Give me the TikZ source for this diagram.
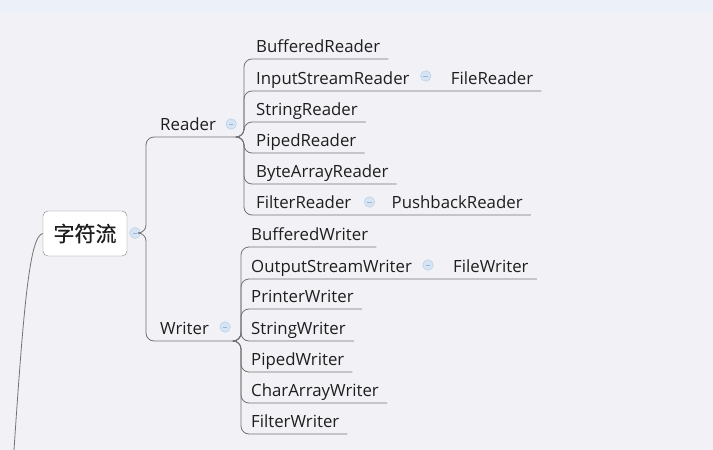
\documentclass[tikz,border=0pt]{standalone}
\usepackage{fontspec}
\setmainfont{Open Sans}
\newfontfamily\cjk[FakeBold=0.6]{Noto Sans CJK SC}
\usetikzlibrary{calc}
\definecolor{bg}{RGB}{242,242,246}
\definecolor{band}{RGB}{236,240,248}
\definecolor{txt}{RGB}{30,30,30}
\definecolor{ln}{RGB}{115,115,115}
\definecolor{cfill}{RGB}{214,228,243}
\definecolor{cdraw}{RGB}{186,206,230}
\definecolor{cminus}{RGB}{150,180,215}
\begin{document}
\begin{tikzpicture}[x=1pt,y=-1pt,
  lbl/.style={anchor=base west, inner sep=0pt, text=txt, font=\fontsize{16.8}{20}\selectfont},
  conn/.style={draw=ln, line width=0.8pt, rounded corners=8pt},
  fold/.style={circle, fill=cfill, draw=cdraw, line width=0.5pt, minimum size=10.5pt, inner sep=0pt,
    path picture={\draw[cminus, line width=0.8pt] ([xshift=-2.3pt]path picture bounding box.center) -- ([xshift=2.3pt]path picture bounding box.center);}},
]
\fill[bg] (0,0) rectangle (713,450);
\fill[band] (0,0) rectangle (713,12);
\useasboundingbox (0,0) rectangle (713,450);

% root
\node[draw=ln!90, fill=white, rounded corners=5pt, minimum width=84pt, minimum height=45pt,
      font=\cjk\fontsize{21}{24}\selectfont, text=txt] (root) at (85,233.5) {字符流};
\node[fold, minimum size=11pt] (rootf) at (135,233) {};
\coordinate (up) at (14,450);
\draw[draw=ln, line width=0.8pt] (root.west) .. controls (30,236) and (24,300) .. (up);

% level 1
\node[lbl] (reader) at (160,130) {Reader};
\node[lbl] (writer) at (160,334) {Writer};
\node[fold] (readerf) at ($(reader.base east)+(15,-6)$) {};
\node[fold] (writerf) at ($(writer.base east)+(16,-7)$) {};
\coordinate (rj) at (146,233);
\coordinate (rb) at (239,137);
\coordinate (wb) at (236,341);
\draw[conn] (rootf.east) -- (rj) |- (rb);
\draw[conn] (rootf.east) -- (rj) |- (wb);

% Reader children
\node[lbl] (r1) at (256,52) {BufferedReader};
\node[lbl] (r2) at (256,84) {InputStreamReader};
\node[lbl] (r3) at (256,115) {StringReader};
\node[lbl] (r4) at (256,146) {PipedReader};
\node[lbl] (r5) at (256,177) {ByteArrayReader};
\node[lbl] (r6) at (256,208) {FilterReader};
\node[fold] (r2f) at ($(r2.base east)+(16,-8)$) {};
\node[lbl] (r2a) at ($(r2f.center)+(25,8)$) {FileReader};
\node[fold] (r6f) at ($(r6.base east)+(18,-6)$) {};
\node[lbl] (r6a) at ($(r6f.center)+(22,6)$) {PushbackReader};

\foreach \n in {r1,r3,r4,r5}{
  \draw[conn] (rb) -- ++(5,0) |- ($(\n.base east)+(8,7)$);
}
\draw[conn] (rb) -- ++(5,0) |- ($(r2a.base east)+(8,7)$);
\draw[conn] (rb) -- ++(5,0) |- ($(r6a.base east)+(8,7)$);

% Writer children
\node[lbl] (w1) at (251,240) {BufferedWriter};
\node[lbl] (w2) at (251,272) {OutputStreamWriter};
\node[lbl] (w3) at (251,302) {PrinterWriter};
\node[lbl] (w4) at (251,334) {StringWriter};
\node[lbl] (w5) at (251,365) {PipedWriter};
\node[lbl] (w6) at (251,396) {CharArrayWriter};
\node[lbl] (w7) at (251,427) {FilterWriter};
\node[fold] (w2f) at ($(w2.base east)+(16,-7)$) {};
\node[lbl] (w2a) at ($(w2f.center)+(25,7)$) {FileWriter};

\foreach \n in {w1,w3,w4,w5,w6,w7}{
  \draw[conn] (wb) -- ++(5,0) |- ($(\n.base east)+(8,7)$);
}
\draw[conn] (wb) -- ++(5,0) |- ($(w2a.base east)+(8,7)$);
\end{tikzpicture}
\end{document}
